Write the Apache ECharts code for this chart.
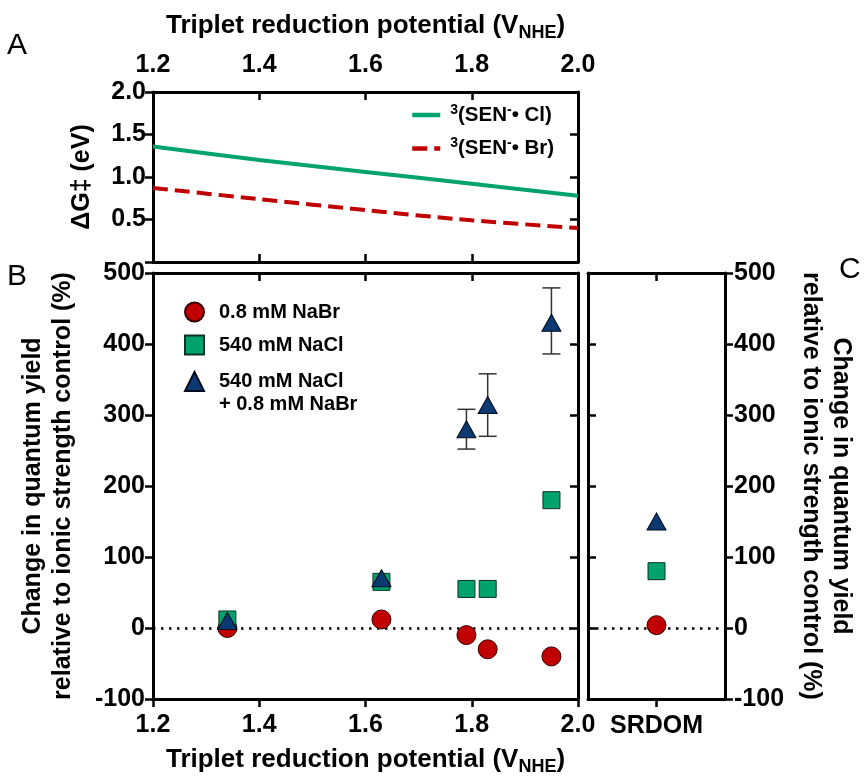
<!DOCTYPE html>
<html>
<head>
<meta charset="utf-8">
<script src="https://cdn.jsdelivr.net/npm/echarts@6/dist/echarts.min.js"></script>
<style>
html,body{margin:0;padding:0;background:#fff;}
#chart{width:865px;height:777px;}
</style>
</head>
<body>
<div id="chart"></div>
<script>
// ---- Panel A: activation free energy vs triplet reduction potential ----
const potentialGrid = [1.2, 1.4, 1.6, 1.8, 2.0];
const dGCl = [1.36, 1.20, 1.06, 0.92, 0.78];
const dGBr = [0.87, 0.74, 0.61, 0.49, 0.40];

// ---- Panel B: change in quantum yield (%) ----
const potentials = [1.34, 1.63, 1.79, 1.83, 1.95];
const yieldNaBr = [0, 12, -10, -30, -40];
const yieldNaCl = [12, 65, 55, 55, 180];
const yieldMix = [10, 70, 280, 314, 430];
const mixErrLow = [null, null, 252, 270, 386];
const mixErrHigh = [null, null, 308, 358, 479];

// ---- Panel C: SRDOM ----
const srdomCategories = ['SRDOM'];
const srdomNaBr = [4];
const srdomNaCl = [80];
const srdomMix = [150];

// tick settings
const potentialTicks = {min: 1.2, max: 2.0, interval: 0.2};
const dGTicks = {min: 0, max: 2.0, interval: 0.5};
const yieldTicks = {min: -100, max: 500, interval: 100};

const FONT = "'Liberation Sans', Arial, sans-serif";
const BLACK = '#000';
const RED = '#c00000';
const GREEN = '#00a36c';
const NAVY = '#0b3a72';

const zip = (xs, ys) => xs.map((x, i) => [x, ys[i]]);

const axisLineStyle = {show: true, onZero: false, lineStyle: {color: BLACK, width: 3}};
const tickOut = {show: true, inside: false, length: 8, lineStyle: {color: BLACK, width: 2.5}};
const tickIn = {show: true, inside: true, length: 8, lineStyle: {color: BLACK, width: 2.5}};
const labelStyle = {fontFamily: FONT, fontWeight: 'bold', fontSize: 25, color: BLACK};
const nameStyle = {fontFamily: FONT, fontWeight: 'bold', fontSize: 25, color: BLACK};

const potentialName = '{b|Triplet reduction potential (V}{s|NHE}{b|)}';
const potentialRich = {
  b: {fontFamily: FONT, fontWeight: 'bold', fontSize: 26, color: BLACK},
  s: {fontFamily: FONT, fontWeight: 'bold', fontSize: 18, color: BLACK, padding: [14, 0, 0, 0]}
};

const legendTextRich = {
  t: {fontFamily: FONT, fontWeight: 'bold', fontSize: 20, color: BLACK, lineHeight: 23, padding: [0, 0, 0, 10]}
};

const chart = echarts.init(document.getElementById('chart'), null, {renderer: 'canvas'});

const gridBase = {outerBoundsMode: 'none', containLabel: false};

const option = {
  backgroundColor: '#fff',
  animation: false,
  grid: [
    {...gridBase, left: 153, top: 92, width: 425, height: 170},
    {...gridBase, left: 153, top: 273, width: 425, height: 426},
    {...gridBase, left: 588, top: 273, width: 137, height: 426}
  ],
  xAxis: [
    { // A top (main)
      type: 'value', gridIndex: 0, position: 'top', ...potentialTicks,
      axisLine: axisLineStyle, axisTick: tickIn, splitLine: {show: false},
      axisLabel: {...labelStyle, margin: 14, formatter: v => v.toFixed(1)},
      name: potentialName, nameLocation: 'middle', nameGap: 50,
      nameTextStyle: {...nameStyle, rich: potentialRich}
    },
    { // A bottom mirror
      type: 'value', gridIndex: 0, position: 'bottom', ...potentialTicks,
      axisLine: axisLineStyle, axisTick: tickIn, splitLine: {show: false},
      axisLabel: {show: false}
    },
    { // B bottom (main)
      type: 'value', gridIndex: 1, position: 'bottom', ...potentialTicks,
      axisLine: axisLineStyle, axisTick: tickOut, splitLine: {show: false},
      axisLabel: {...labelStyle, margin: 14, formatter: v => v.toFixed(1)},
      name: potentialName, nameLocation: 'middle', nameGap: 45,
      nameTextStyle: {...nameStyle, rich: potentialRich}
    },
    { // B top mirror
      type: 'value', gridIndex: 1, position: 'top', ...potentialTicks,
      axisLine: axisLineStyle, axisTick: tickIn, splitLine: {show: false},
      axisLabel: {show: false}
    },
    { // C bottom (main)
      type: 'category', gridIndex: 2, position: 'bottom', data: srdomCategories, boundaryGap: true,
      axisLine: axisLineStyle, axisTick: {...tickOut, alignWithLabel: true}, splitLine: {show: false},
      axisLabel: {...labelStyle, margin: 15}
    },
    { // C top mirror
      type: 'category', gridIndex: 2, position: 'top', data: srdomCategories, boundaryGap: true,
      axisLine: axisLineStyle, axisTick: {...tickIn, alignWithLabel: true}, splitLine: {show: false},
      axisLabel: {show: false}
    }
  ],
  yAxis: [
    { // A left (main)
      type: 'value', gridIndex: 0, position: 'left', ...dGTicks,
      axisLine: axisLineStyle, axisTick: tickOut, splitLine: {show: false},
      axisLabel: {...labelStyle, margin: 7, formatter: v => (v === 0 ? '' : v.toFixed(1))},
      name: 'ΔG‡ (eV)', nameLocation: 'middle', nameGap: 58, nameRotate: 90,
      nameTextStyle: nameStyle
    },
    { // A right mirror
      type: 'value', gridIndex: 0, position: 'right', ...dGTicks,
      axisLine: axisLineStyle, axisTick: tickIn, splitLine: {show: false},
      axisLabel: {show: false}
    },
    { // B left (main)
      type: 'value', gridIndex: 1, position: 'left', ...yieldTicks,
      axisLine: axisLineStyle, axisTick: tickOut, splitLine: {show: false},
      axisLabel: {...labelStyle, margin: 8},
      name: 'Change in quantum yield\nrelative to ionic strength control (%)',
      nameLocation: 'middle', nameGap: 75, nameRotate: 90,
      nameTextStyle: {...nameStyle, lineHeight: 30}
    },
    { // B right mirror
      type: 'value', gridIndex: 1, position: 'right', ...yieldTicks,
      axisLine: axisLineStyle, axisTick: tickIn, splitLine: {show: false},
      axisLabel: {show: false}
    },
    { // C right (main)
      type: 'value', gridIndex: 2, position: 'right', ...yieldTicks,
      axisLine: axisLineStyle, axisTick: tickOut, splitLine: {show: false},
      axisLabel: {...labelStyle, margin: 9},
      name: 'Change in quantum yield\nrelative to ionic strength control (%)',
      nameLocation: 'middle', nameGap: 71, nameRotate: -90,
      nameTextStyle: {...nameStyle, lineHeight: 30}
    },
    { // C left mirror
      type: 'value', gridIndex: 2, position: 'left', ...yieldTicks,
      axisLine: axisLineStyle, axisTick: tickIn, splitLine: {show: false},
      axisLabel: {show: false}
    }
  ],
  legend: [
    {
      data: ['3(SEN-• Cl)', '3(SEN-• Br)'],
      orient: 'vertical', left: 410, top: 103, itemGap: 11, padding: 0,
      itemWidth: 28, itemHeight: 20,
      itemStyle: {opacity: 0, borderWidth: 0},
      lineStyle: {width: 4.5},
      formatter: name => name.replace(/^3\(SEN-/, '{sup0|3}{t|(SEN}{sup|-}{t|').replace(/\)$/, ')}'),
      textStyle: {
        fontFamily: FONT, fontWeight: 'bold', fontSize: 20, color: BLACK,
        rich: {
          t: {fontFamily: FONT, fontWeight: 'bold', fontSize: 20.5, color: BLACK},
          sup0: {fontFamily: FONT, fontWeight: 'bold', fontSize: 14, color: BLACK, padding: [0, 0, 10, 5]},
          sup: {fontFamily: FONT, fontWeight: 'bold', fontSize: 14, color: BLACK, padding: [0, 0, 10, 0]}
        }
      }
    },
    {
      data: ['0.8 mM NaBr', '540 mM NaCl'],
      orient: 'vertical', left: 184, top: 301.5, itemGap: 12, padding: 0,
      itemWidth: 19, itemHeight: 19,
      formatter: name => '{t|' + name + '}',
      textStyle: {fontFamily: FONT, fontWeight: 'bold', fontSize: 20, color: BLACK, rich: legendTextRich}
    },
    {
      data: ['540 mM NaCl\n+ 0.8 mM NaBr'],
      orient: 'vertical', left: 184, top: 348.5, padding: 0,
      itemWidth: 19, itemHeight: 19,
      formatter: name => '{t| }\n' + name.split('\n').map(s => '{t|' + s + '}').join('\n'),
      textStyle: {fontFamily: FONT, fontWeight: 'bold', fontSize: 20, color: BLACK, rich: legendTextRich}
    }
  ],
  graphic: [
    {type: 'text', left: 7, top: 31, style: {text: 'A', fontFamily: FONT, fontSize: 30, fill: BLACK}},
    {type: 'text', left: 7, top: 262, style: {text: 'B', fontFamily: FONT, fontSize: 30, fill: BLACK}},
    {type: 'text', left: 839, top: 255, style: {text: 'C', fontFamily: FONT, fontSize: 30, fill: BLACK}}
  ],
  series: [
    {
      name: '3(SEN-• Cl)', type: 'line', xAxisIndex: 0, yAxisIndex: 0,
      data: zip(potentialGrid, dGCl), smooth: 0.3, symbol: 'none',
      lineStyle: {color: GREEN, width: 4}, itemStyle: {color: GREEN}
    },
    {
      name: '3(SEN-• Br)', type: 'line', xAxisIndex: 0, yAxisIndex: 0,
      data: zip(potentialGrid, dGBr), smooth: 0.3, symbol: 'none',
      lineStyle: {color: RED, width: 4, type: [15, 7]}, itemStyle: {color: RED}
    },
    { // zero reference line, panel B
      type: 'line', xAxisIndex: 2, yAxisIndex: 2, data: [], silent: true,
      markLine: {
        silent: true, symbol: 'none', z: 1, label: {show: false},
        lineStyle: {color: BLACK, width: 2.5, type: [2.5, 5.5]},
        data: [{yAxis: 0}]
      }
    },
    { // zero reference line, panel C
      type: 'line', xAxisIndex: 4, yAxisIndex: 4, data: [], silent: true,
      markLine: {
        silent: true, symbol: 'none', z: 1, label: {show: false},
        lineStyle: {color: BLACK, width: 2.5, type: [2.5, 5.5]},
        data: [{yAxis: 0}]
      }
    },
    { // error bars for mixed salt
      type: 'custom', xAxisIndex: 2, yAxisIndex: 2, z: 1,
      data: potentials.map((x, i) => [x, mixErrLow[i], mixErrHigh[i]]).filter(d => d[1] !== null),
      renderItem: (params, api) => {
        const x = api.value(0);
        const lo = api.coord([x, api.value(1)]);
        const hi = api.coord([x, api.value(2)]);
        const cap = 9;
        const style = {stroke: '#333', lineWidth: 1.5};
        return {
          type: 'group',
          children: [
            {type: 'line', shape: {x1: lo[0], y1: lo[1], x2: hi[0], y2: hi[1]}, style},
            {type: 'line', shape: {x1: lo[0] - cap, y1: lo[1], x2: lo[0] + cap, y2: lo[1]}, style},
            {type: 'line', shape: {x1: hi[0] - cap, y1: hi[1], x2: hi[0] + cap, y2: hi[1]}, style}
          ]
        };
      }
    },
    {
      name: '0.8 mM NaBr', type: 'scatter', xAxisIndex: 2, yAxisIndex: 2,
      data: zip(potentials, yieldNaBr), symbol: 'circle', symbolSize: 19,
      itemStyle: {color: RED, borderColor: '#3a0000', borderWidth: 1, opacity: 1}
    },
    {
      name: '540 mM NaCl', type: 'scatter', xAxisIndex: 2, yAxisIndex: 2,
      data: zip(potentials, yieldNaCl), symbol: 'rect', symbolSize: 17,
      itemStyle: {color: GREEN, borderColor: '#0d3325', borderWidth: 1, opacity: 1}
    },
    {
      name: '540 mM NaCl\n+ 0.8 mM NaBr', type: 'scatter', xAxisIndex: 2, yAxisIndex: 2,
      data: zip(potentials, yieldMix), symbol: 'triangle', symbolSize: [19, 17],
      itemStyle: {color: NAVY, borderColor: '#000a1a', borderWidth: 1, opacity: 1}
    },
    {
      name: '0.8 mM NaBr', type: 'scatter', xAxisIndex: 4, yAxisIndex: 4,
      data: srdomNaBr, symbol: 'circle', symbolSize: 19,
      itemStyle: {color: RED, borderColor: '#3a0000', borderWidth: 1, opacity: 1}
    },
    {
      name: '540 mM NaCl', type: 'scatter', xAxisIndex: 4, yAxisIndex: 4,
      data: srdomNaCl, symbol: 'rect', symbolSize: 17,
      itemStyle: {color: GREEN, borderColor: '#0d3325', borderWidth: 1, opacity: 1}
    },
    {
      name: '540 mM NaCl\n+ 0.8 mM NaBr', type: 'scatter', xAxisIndex: 4, yAxisIndex: 4,
      data: srdomMix, symbol: 'triangle', symbolSize: [19, 17],
      itemStyle: {color: NAVY, borderColor: '#000a1a', borderWidth: 1, opacity: 1}
    }
  ]
};

chart.setOption(option);
</script>
</body>
</html>
